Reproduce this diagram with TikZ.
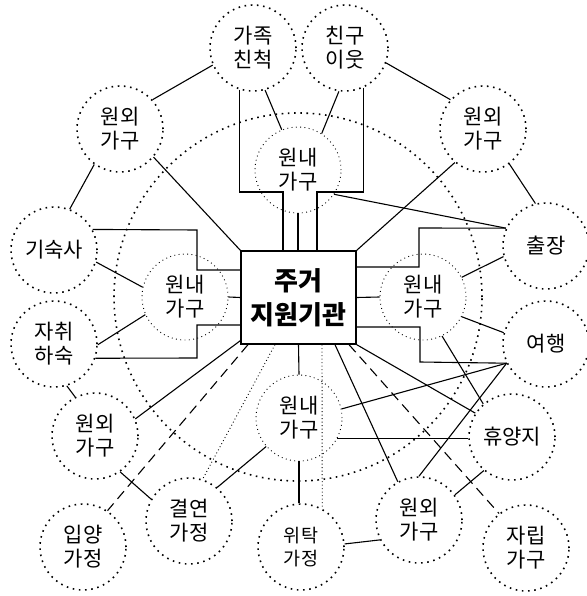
\documentclass[tikz,border=0pt]{standalone}
\usepackage{fontspec}
\newfontfamily\kr{Noto Sans CJK KR}
\begin{document}
\begin{tikzpicture}[x=1pt,y=-1pt,
  outer/.style={circle,draw,minimum size=86pt,inner sep=0pt,line width=1.6pt,
    dash pattern=on 1.6pt off 4.6pt,align=center,font=\kr\fontsize{21}{24}\selectfont},
  smalltxt/.style={font=\kr\fontsize{18.5}{23}\selectfont},
  innerc/.style={circle,draw,minimum size=86pt,inner sep=0pt,line width=0.9pt,
    dash pattern=on 0.9pt off 3.4pt,align=center,font=\kr\fontsize{21}{24}\selectfont},
  ring/.style={circle,draw,minimum size=368pt,inner sep=0pt,line width=1.6pt,
    dash pattern=on 1.6pt off 4.6pt},
  hub/.style={draw,line width=1.3pt,minimum width=115pt,minimum height=93pt,inner sep=0pt,
    align=center,font=\kr\bfseries\fontsize{26}{34}\selectfont},
  link/.style={line width=1.1pt},
  dlink/.style={line width=1.1pt,dash pattern=on 10pt off 6pt},
  tlink/.style={line width=0.9pt,dash pattern=on 0.9pt off 2.6pt}]
\useasboundingbox (0,0) rectangle (586,596);
\node[ring] (bigring) at (298,297) {};
% outer circles
\node[outer] (fam) at (253,48) {가족\\친척};
\node[outer] (fri) at (345,48) {친구\\이웃};
\node[outer] (otl) at (120,129) {원외\\가구};
\node[outer] (otr) at (483,129) {원외\\가구};
\node[outer] (dorm) at (54,250) {기숙사};
\node[outer] (trip) at (546,246) {출장};
\node[outer] (lodg) at (54,344) {자취\\하숙};
\node[outer] (trav) at (546,344) {여행};
\node[outer] (ol) at (95,436) {원외\\가구};
\node[outer] (resort) at (512,437) {휴양지};
\node[outer] (adopt) at (83,547) {입양\\가정};
\node[outer] (sis) at (189,521) {결연\\가정};
\node[outer,smalltxt] (foster) at (301,547) {위탁\\가정};
\node[outer] (obr) at (419,520) {원외\\가구};
\node[outer] (indep) at (526,548) {자립\\가구};
% inner circles
\node[innerc] (it) at (298,170) {원내\\가구};
\node[innerc] (il) at (185,297) {원내\\가구};
\node[innerc] (ir) at (423,297) {원내\\가구};
\node[innerc] (ib) at (299,418) {원내\\가구};
% hub
\node[hub] (box) at (298.5,297.5) {주거\\지원기관};
% connectors top
\draw[link] (fam.252) |- (283,192) -| ([xshift=-15.5pt]box.north);
\draw[link] (fam.286) -- (it.112);
\draw[link] (it.south) -- (it.south |- box.north);
\draw[link] (fri.295) |- (317,192) -| ([xshift=18.5pt]box.north);
\draw[link] (fri.262) -- (it.57);
\draw[link] (fri.340) -- (otr.138);
\draw[link] (otr.307) -- (trip.104);
\draw[link] (otr.230) -- (box.north east);
\draw[link] (it.326) -- (trip.156);
% right
\draw[link] ([yshift=30.5pt]box.east) -| (419,228) -- (trip.156);
\draw[link] (box.east) -- (ir.west);
\draw[link] ([yshift=-29.5pt]box.east) -| (420,362) -- (trav.206);
\draw[link] (ir.27) -- (trip.194);
\draw[link] (ir.333) -- (trav.165);
\draw[link] (ir.296) -- (resort.131);
\draw[link] (trav.206) -- (ib.12);
\draw[link] (trav.206) -- (obr.90);
\draw[link] (ib.332) -- (ib.332 -| resort.west);
% bottom
\draw[link] ([xshift=36.5pt]box.south) -- (obr.119);
\draw[dlink] ([xshift=50.5pt]box.south) -- (indep.128);
\draw[link] (box.south east) -- (resort.147);
\draw[link] (obr.35) -- (resort.230);
\draw[link] (ib.south) -- (ib.south |- foster.north);
\draw[tlink] ([xshift=23.5pt]box.south) -- (foster.61);
\draw[link] (foster.4) -- (obr.207);
\draw[link] (box.south) -- (ib.north);
% left
\draw[link] ([yshift=27.5pt]box.west) -| (197,230) -- (dorm.28);
\draw[link] (box.west) -- (il.east);
\draw[link] ([yshift=-27.5pt]box.west) -| (197,358) -- (lodg.341);
\draw[link] (dorm.344) -- (il.167);
\draw[link] (lodg.359) -- (il.204);
\draw[link] (dorm.69) -- (otl.234);
\draw[link] (otl.42) -- (fam.203);
\draw[link] (otl.320) -- (box.north west);
\draw[link] (lodg.287) -- (ol.117);
\draw[link] ([yshift=4pt]box.south west) -- (ol.23);
\draw[dlink] ([xshift=-50.5pt]box.south) -- (adopt.56);
\draw[tlink] ([xshift=-23.5pt]box.south) -- (sis.72);
\draw[link] (ol.305) -- (sis.150);
\draw[link] (sis.50) -- (ib.221);
\end{tikzpicture}
\end{document}
